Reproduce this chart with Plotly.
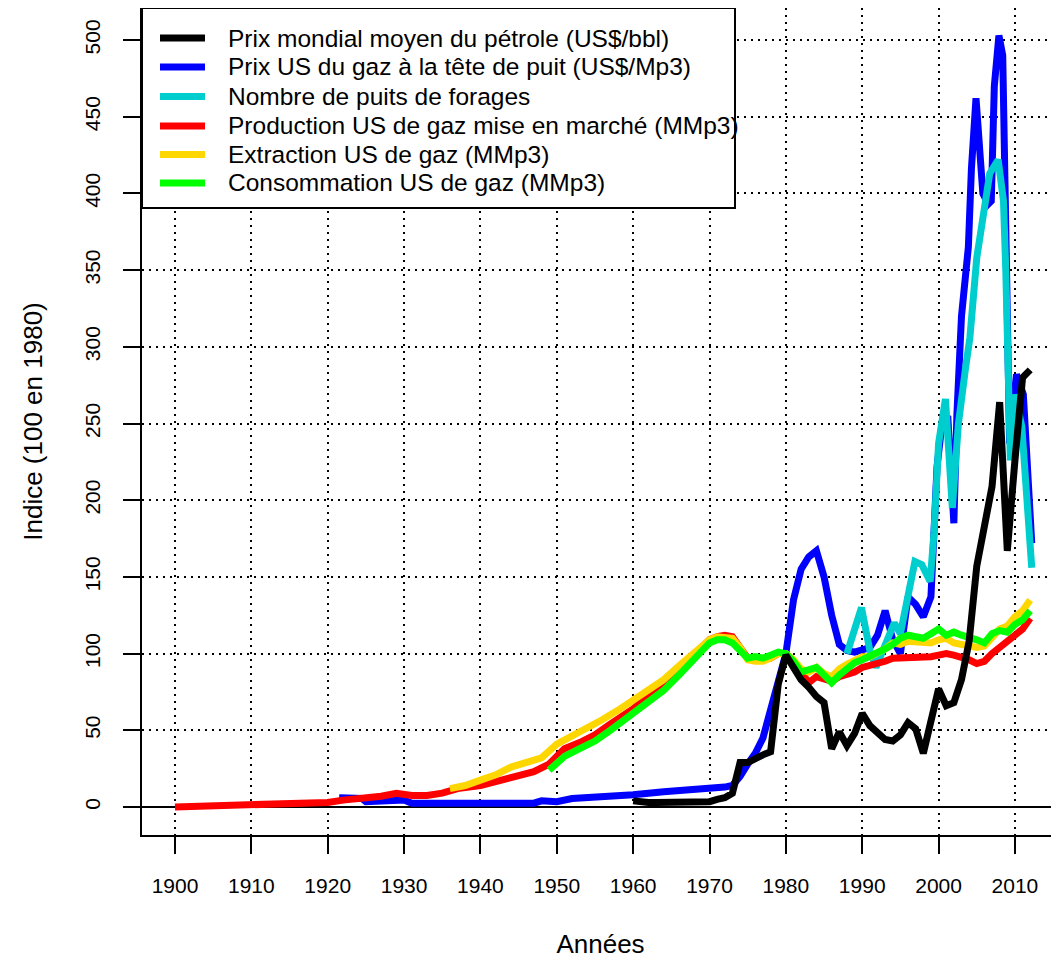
import plotly.graph_objects as go

# ---------------- data (index, 100 = 1980) ----------------
oil_years = [1960, 1961, 1962, 1963, 1964, 1965, 1966, 1967, 1968, 1969, 1970, 1971, 1972,
             1973, 1974, 1975, 1976, 1977, 1978, 1979, 1980, 1981, 1982, 1983, 1984, 1985,
             1986, 1987, 1988, 1989, 1990, 1991, 1992, 1993, 1994, 1995, 1996, 1997, 1998,
             1999, 2000, 2001, 2002, 2003, 2004, 2005, 2006, 2007, 2008, 2009, 2010, 2011, 2012]
oil_values = [4, 3, 3, 3, 3, 3, 3, 3, 3, 3, 3.5, 5, 6,
              9, 29, 29, 32, 34, 36, 80, 99, 90, 83, 78, 72, 68,
              38, 49, 40, 48, 61, 53, 49, 44, 43, 47, 55, 51, 35,
              55, 77, 66, 68, 83, 108, 157, 183, 209, 264, 167, 226, 280, 285]

gasprice_years = [1921.5, 1924.5, 1925, 1929, 1930, 1931, 1947, 1948, 1950, 1952, 1957, 1960,
                  1964, 1968, 1972, 1973, 1974, 1975, 1976, 1977, 1978, 1979, 1980, 1981,
                  1982, 1983, 1984, 1985, 1986, 1987, 1988, 1989, 1990, 1991, 1992, 1993,
                  1994, 1995, 1996, 1997, 1998, 1999, 1999.8, 2000.4, 2001.2, 2002, 2002.4,
                  2003, 2003.9, 2004.3, 2004.9, 2005.5, 2005.8, 2006.5, 2006.9, 2007.3,
                  2007.9, 2008.4, 2008.8, 2009.3, 2010.2, 2011.1, 2012.2]
gasprice_values = [6, 5.5, 3.5, 3.5, 4.5, 2.5, 2.5, 4, 3.5, 5.5, 6.5, 8,
                   10, 11, 13, 14, 20, 28, 35, 45, 62, 80, 100, 135,
                   155, 163, 167, 150, 125, 106, 102, 101, 102, 104, 112, 128,
                   109, 100, 137, 132, 124, 137, 222, 248, 255, 185, 256,
                   320, 365, 416, 462, 425, 400, 393, 395, 470,
                   503, 490, 360, 237, 282, 269, 172]

wells_years = [1988, 1989.9, 1991, 1991.8, 1994.2, 1995, 1996.9, 1997.8, 1998.9, 1999.4,
               2000, 2000.9, 2001.8, 2002.6, 2003.5, 2004.1, 2005, 2005.9, 2006.7, 2007.8,
               2008.5, 2008.8, 2009.1, 2009.4, 2010, 2010.9, 2012.2]
wells_values = [100, 130, 102, 91, 120, 113, 160, 158, 147, 179,
                237, 266, 195, 250, 285, 306, 358, 390, 413, 422,
                395, 350, 290, 226, 269, 248, 156]

prod_years = [1900, 1903, 1905, 1910, 1915, 1920, 1922, 1925, 1927, 1929, 1931, 1933, 1935,
              1937, 1940, 1942, 1945, 1947, 1949, 1951, 1953, 1955, 1957, 1960, 1964, 1968,
              1970, 1971, 1972, 1973, 1974, 1975, 1976, 1977, 1978, 1979, 1980, 1981, 1982,
              1983, 1984, 1985, 1986, 1987, 1988, 1989, 1990, 1991, 1992, 1993, 1994, 1995,
              1996, 1997, 1998, 1999, 2000, 2001, 2002, 2003, 2004, 2005, 2006, 2007, 2008,
              2009, 2010, 2011, 2012]
prod_values = [0, 0.5, 1.3, 1.8, 2.5, 3, 4.5, 5.5, 7, 9, 7.5, 7.5, 9,
               12, 14, 16.5, 20, 23, 28, 38, 42, 47, 54, 64, 80, 100,
               109, 111, 112, 111, 103, 97, 96, 96, 97, 100, 100, 95, 88,
               81, 85, 83, 82, 85, 86, 88, 91, 92, 93, 95, 97, 97,
               98, 98, 98, 98, 99, 100, 99, 98, 96, 93.5, 95, 100, 104,
               107, 111, 116, 123]

extr_years = [1936, 1938, 1940, 1942, 1944, 1946, 1948, 1950, 1952, 1954, 1956, 1958, 1960,
              1962, 1964, 1966, 1968, 1970, 1971, 1972, 1973, 1974, 1975, 1976, 1977, 1978,
              1979, 1980, 1981, 1982, 1983, 1984, 1985, 1986, 1987, 1988, 1989, 1990, 1991,
              1992, 1993, 1994, 1995, 1996, 1997, 1998, 1999, 2000, 2001, 2002, 2003, 2004,
              2005, 2006, 2007, 2008, 2009, 2010, 2011, 2012]
extr_values = [12, 14, 17.5, 21, 26, 29, 32, 41, 46, 52, 57, 63, 70,
               76, 83, 92, 101, 109, 111, 111, 110, 104, 96, 95, 95, 97,
               100, 100, 96, 90, 88, 91, 87, 85, 90, 93, 95, 98, 98,
               100, 103, 107, 106, 108, 108, 108, 107, 109, 110, 107, 106, 106,
               104, 105, 111, 116, 118, 124, 128, 135]

cons_years = [1949, 1950, 1951, 1953, 1955, 1957, 1960, 1962, 1964, 1966, 1968, 1970, 1971,
              1972, 1973, 1974, 1975, 1976, 1977, 1978, 1979, 1980, 1981, 1982, 1983, 1984,
              1985, 1986, 1987, 1988, 1989, 1990, 1991, 1992, 1993, 1994, 1995, 1996, 1997,
              1998, 1999, 2000, 2001, 2002, 2003, 2004, 2005, 2006, 2007, 2008, 2009, 2010,
              2011, 2012]
cons_values = [24, 29, 33, 38, 43, 50, 61, 68, 76, 86, 97, 107, 109,
               109, 107, 102, 97, 98, 97, 99, 101, 100, 95, 88, 89, 91,
               86, 81, 86, 90, 94, 96, 98, 100, 103, 106, 110, 112, 111,
               110, 113, 116, 112, 114, 112, 111, 109, 107, 113, 115, 114, 119,
               122, 128]

legend_names = [
    "Prix mondial moyen du pétrole (US$/bbl)",
    "Prix US du gaz à la tête de puit (US$/Mp3)",
    "Nombre de puits de forages",
    "Production US de gaz mise en marché (MMp3)",
    "Extraction US de gaz (MMp3)",
    "Consommation US de gaz (MMp3)",
]
legend_colors = ["#000000", "#0000FF", "#00CDCD", "#FF0000", "#FFD700", "#00FF00"]

# drawing order (black on top, as in the reference)
series = [
    (1, gasprice_years, gasprice_values),
    (2, wells_years, wells_values),
    (3, prod_years, prod_values),
    (4, extr_years, extr_values),
    (5, cons_years, cons_values),
    (0, oil_years, oil_values),
]

x_ticks = list(range(1900, 2011, 10))
y_ticks = list(range(0, 501, 50))

FONT = "Liberation Sans, Arial, Helvetica, sans-serif"
LW = 7

fig = go.Figure()
for idx, xs, ys in series:
    fig.add_trace(go.Scatter(
        x=xs, y=ys, mode="lines", name=legend_names[idx],
        line=dict(color=legend_colors[idx], width=LW),
        showlegend=False,
    ))

# The page body adds an 8 px offset; figure is 1051x951 so it fits the window.
# Plot area (page px): x 142..1059, y 8..835
PW, PH = 917.0, 827.0
def px_x(p):
    return (p - 142) / PW
def px_y(p):
    return (835 - p) / PH

shapes = [dict(type="rect", xref="paper", yref="paper",
               x0=px_x(142), x1=px_x(735), y0=px_y(208), y1=px_y(8),
               line=dict(color="black", width=2), fillcolor="white", layer="above")]
annotations = []
row_y = [38, 67, 96.5, 126, 154.5, 183]
for i, name in enumerate(legend_names):
    shapes.append(dict(type="line", xref="paper", yref="paper",
                       x0=px_x(160), x1=px_x(205), y0=px_y(row_y[i]), y1=px_y(row_y[i]),
                       line=dict(color=legend_colors[i], width=LW), layer="above"))
    annotations.append(dict(xref="paper", yref="paper", x=px_x(226), y=px_y(row_y[i]),
                            text=name, showarrow=False, xanchor="left", yanchor="middle",
                            font=dict(size=24.5, family=FONT, color="black")))

fig.update_layout(
    width=1051, height=951,
    margin=dict(l=134, r=0, t=0, b=124, autoexpand=False),
    plot_bgcolor="white", paper_bgcolor="white",
    font=dict(family=FONT, color="black"),
    showlegend=False,
    shapes=shapes,
    annotations=annotations,
    xaxis=dict(
        range=[1895.68, 2015.77], automargin=False,
        tickmode="array", tickvals=x_ticks, ticktext=[str(v) for v in x_ticks],
        ticks="outside", ticklen=17, tickwidth=2, tickcolor="black",
        tickfont=dict(size=21), ticklabelstandoff=14,
        showline=True, linecolor="black", linewidth=2, mirror=True,
        showgrid=True, gridcolor="black", gridwidth=2, griddash="2px,5px",
        zeroline=False,
        title=dict(text="Années", font=dict(size=26), standoff=39),
    ),
    yaxis=dict(
        range=[-18.25, 520.9], automargin=False,
        tickmode="array", tickvals=y_ticks, ticktext=[str(v) for v in y_ticks],
        ticks="outside", ticklen=17, tickwidth=2, tickcolor="black",
        tickfont=dict(size=21), tickangle=-90, ticklabelstandoff=15,
        showline=True, linecolor="black", linewidth=2, mirror=False,
        showgrid=True, gridcolor="black", gridwidth=2, griddash="2px,5px",
        zeroline=True, zerolinecolor="black", zerolinewidth=2,
        title=dict(text="Indice (100 en 1980)", font=dict(size=26), standoff=30),
    ),
)

fig.write_html("out.html")
